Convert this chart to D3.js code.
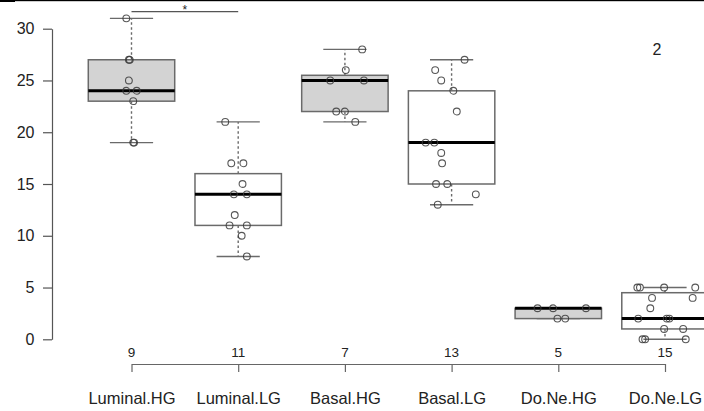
<!DOCTYPE html>
<html>
<head>
<meta charset="utf-8">
<script src="https://cdn.jsdelivr.net/npm/d3@7"></script>
<style>
  html, body { margin: 0; padding: 0; background: #fff; }
  svg { display: block; font-family: "Liberation Sans", Arial, Helvetica, sans-serif; }
</style>
</head>
<body>
<svg id="chart" width="704" height="411"></svg>
<script>
// Groups along the x axis
const categories = ["Luminal.HG", "Luminal.LG", "Basal.HG", "Basal.LG", "Do.Ne.HG", "Do.Ne.LG"];

// Observed values per group
const lumHG = [31, 27, 27, 25, 24, 24, 23, 19, 19];
const lumLG = [21, 17, 17, 15, 14, 14, 12, 11, 11, 10, 8];
const basHG = [28, 26, 25, 25, 22, 22, 21];
const basLG = [27, 26, 25, 24, 22, 19, 19, 18, 17, 15, 15, 14, 13];
const dnHG  = [3, 3, 3, 2, 2];
const dnLG  = [5, 5, 5, 5, 4, 4, 3, 2, 2, 2, 1, 1, 0, 0, 0];

// Horizontal jitter of each point, as a fraction of the box width
const jitLumHG = [-0.06, -0.03, -0.02, -0.03, -0.06, 0.06, 0.02, 0.02, 0.03];
const jitLumLG = [-0.15, -0.08, 0.06, 0.05, -0.05, 0.10, -0.04, -0.10, 0.10, 0.04, 0.10];
const jitBasHG = [0.20, 0.01, -0.17, 0.22, -0.10, 0.00, 0.12];
const jitBasLG = [0.15, -0.19, -0.12, 0.02, 0.06, -0.30, -0.20, -0.12, -0.11, -0.18, -0.05, 0.28, -0.16];
const jitDnHG  = [-0.24, -0.06, 0.32, -0.01, 0.08];
const jitDnLG  = [-0.32, -0.29, -0.01, 0.35, -0.15, 0.32, -0.17, -0.31, 0.02, 0.05, -0.01, 0.21, -0.26, -0.23, 0.24];

const yTicks = [0, 5, 10, 15, 20, 25, 30];
const shaded = ["Luminal.HG", "Basal.HG", "Do.Ne.HG"];
const panelLabel = "2";
const sigMark = "*";

const groups = categories.map((c, i) => ({
  name: c,
  values: [lumHG, lumLG, basHG, basLG, dnHG, dnLG][i],
  jitter: [jitLumHG, jitLumLG, jitBasHG, jitBasLG, jitDnHG, jitDnLG][i]
}));

// Tukey five-number summary (hinges), whiskers at 1.5 IQR
function boxStats(vals) {
  const s = vals.slice().sort(d3.ascending);
  const n = s.length;
  const n4 = Math.floor((n + 3) / 2) / 2;
  const idx = [1, n4, (n + 1) / 2, n + 1 - n4, n];
  const f = idx.map(d => 0.5 * (s[Math.floor(d) - 1] + s[Math.ceil(d) - 1]));
  const iqr = f[3] - f[1];
  const lo = d3.min(s.filter(v => v >= f[1] - 1.5 * iqr));
  const hi = d3.max(s.filter(v => v <= f[3] + 1.5 * iqr));
  return { q1: f[1], med: f[2], q3: f[3], lo, hi };
}

const svg = d3.select("#chart");

const x = d3.scalePoint().domain(categories).range([131.5, 665]);
const y = d3.scaleLinear().domain([0, 30]).range([339.3, 28.7]);
const boxW = x.step() * 0.81;

// thin black rule across the top edge
svg.append("rect").attr("x", 0).attr("y", 0).attr("width", 704).attr("height", 1.2).attr("fill", "#000");
svg.append("rect").attr("x", 0).attr("y", 0).attr("width", 15).attr("height", 2).attr("fill", "#000");

// y axis
const yAxis = svg.append("g")
  .attr("transform", "translate(52,0)")
  .call(d3.axisLeft(y).tickValues(yTicks).tickFormat(d3.format("d")).tickSize(9).tickSizeOuter(0).tickPadding(8.5));
yAxis.select(".domain").attr("stroke", "#555").attr("stroke-width", 1.2);
yAxis.selectAll(".tick line").attr("stroke", "#555").attr("stroke-width", 1.2);
yAxis.selectAll(".tick text").attr("font-size", 16).attr("fill", "#222")
  .attr("font-family", "Liberation Sans, Arial, sans-serif");

// bottom category axis
const xAxis = svg.append("g")
  .attr("transform", "translate(0,364)")
  .call(d3.axisBottom(x).tickSize(8).tickSizeOuter(0).tickPadding(20));
xAxis.select(".domain").attr("stroke", "#666").attr("stroke-width", 1.2);
xAxis.selectAll(".tick line").attr("stroke", "#666").attr("stroke-width", 1.2);
xAxis.selectAll(".tick text").attr("font-size", 16.5).attr("fill", "#222")
  .attr("font-family", "Liberation Sans, Arial, sans-serif");

// group sizes above the axis
svg.append("g").selectAll("text").data(groups).join("text")
  .attr("x", d => x(d.name))
  .attr("y", 356.5)
  .attr("text-anchor", "middle")
  .attr("font-size", 13.5)
  .attr("fill", "#222")
  .text(d => d.values.length);

// boxes
const boxG = svg.append("g").selectAll("g").data(groups).join("g")
  .attr("transform", d => `translate(${x(d.name)},0)`);

boxG.each(function (d) {
  const g = d3.select(this);
  const st = boxStats(d.values);
  const grey = "#6a6a6a";
  // dotted whiskers
  g.append("line").attr("x1", 0).attr("x2", 0).attr("y1", y(st.q3)).attr("y2", y(st.hi))
    .attr("stroke", grey).attr("stroke-width", 1.4).attr("stroke-dasharray", "2.5,2.5");
  g.append("line").attr("x1", 0).attr("x2", 0).attr("y1", y(st.q1)).attr("y2", y(st.lo))
    .attr("stroke", grey).attr("stroke-width", 1.4).attr("stroke-dasharray", "2.5,2.5");
  // staples
  [st.hi, st.lo].forEach(v => {
    g.append("line").attr("x1", -boxW / 4).attr("x2", boxW / 4).attr("y1", y(v)).attr("y2", y(v))
      .attr("stroke", grey).attr("stroke-width", 1.4);
  });
  // box body
  g.append("rect")
    .attr("x", -boxW / 2).attr("width", boxW)
    .attr("y", y(st.q3)).attr("height", y(st.q1) - y(st.q3))
    .attr("fill", shaded.includes(d.name) ? "#d3d3d3" : "#fff")
    .attr("stroke", grey).attr("stroke-width", 1.5);
  // median
  g.append("line").attr("x1", -boxW / 2).attr("x2", boxW / 2).attr("y1", y(st.med)).attr("y2", y(st.med))
    .attr("stroke", "#000").attr("stroke-width", 3);
  // jittered points
  g.selectAll("circle").data(d.values.map((v, i) => ({ v, j: d.jitter[i] }))).join("circle")
    .attr("cx", p => p.j * boxW)
    .attr("cy", p => y(p.v))
    .attr("r", 3.4)
    .attr("fill", "none")
    .attr("stroke", "#3a3a3a")
    .attr("stroke-opacity", 0.85)
    .attr("stroke-width", 1.1);
});

// significance bracket between the two luminal groups
svg.append("line")
  .attr("x1", x("Luminal.HG")).attr("x2", x("Luminal.LG"))
  .attr("y1", 11.7).attr("y2", 11.7)
  .attr("stroke", "#555").attr("stroke-width", 1.3);
svg.append("text")
  .attr("x", (x("Luminal.HG") + x("Luminal.LG")) / 2)
  .attr("y", 14)
  .attr("text-anchor", "middle")
  .attr("font-size", 12)
  .attr("fill", "#222")
  .text(sigMark);

// panel number
svg.append("text")
  .attr("x", 657).attr("y", 55)
  .attr("text-anchor", "middle")
  .attr("font-size", 16)
  .attr("fill", "#222")
  .text(panelLabel);
</script>
</body>
</html>
